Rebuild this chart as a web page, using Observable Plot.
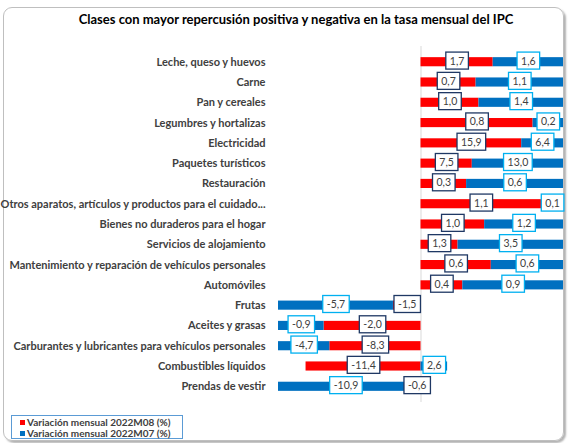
<!DOCTYPE html>
<html><head><meta charset="utf-8">
<script src="https://cdn.jsdelivr.net/npm/d3@7"></script>
<script src="https://cdn.jsdelivr.net/npm/@observablehq/plot@0.6"></script>
<style>
html,body{margin:0;padding:0;width:569px;height:443px;overflow:hidden;background:#fff;font-family:Lato,"Liberation Sans",sans-serif;}
#frame{position:absolute;left:3px;top:7px;width:559px;height:432px;border:1px solid #bfbfbf;border-radius:9px;box-shadow:2px 2px 2px rgba(0,0,0,0.3);}
#title{position:absolute;left:0;top:12px;width:592px;text-align:center;font-size:13px;line-height:15px;font-weight:bold;color:#000;}
#chart{position:absolute;left:0;top:0;}
#legend{position:absolute;left:11px;top:415px;width:172px;height:24px;border:1px solid #5b9bd5;box-sizing:border-box;padding:1px 0 0 8px;font-size:10px;font-weight:bold;color:#404040;line-height:10.5px;background:#fff;}
#legend .sw{display:inline-block;width:5px;height:5px;margin-right:2px;vertical-align:1px;}
</style></head>
<body>
<div id="frame"></div>
<div id="title">Clases con mayor repercusión positiva y negativa en la tasa mensual del IPC</div>
<div id="chart"></div>
<div id="legend"></div>
<script>
const categories = [
  "Leche, queso y huevos","Carne","Pan y cereales","Legumbres y hortalizas","Electricidad",
  "Paquetes turísticos","Restauración","Otros aparatos, artículos y productos para el cuidado...",
  "Bienes no duraderos para el hogar","Servicios de alojamiento",
  "Mantenimiento y reparación de vehículos personales","Automóviles","Frutas","Aceites y grasas",
  "Carburantes y lubricantes para vehículos personales","Combustibles líquidos","Prendas de vestir"
];
// bar lengths (repercussion)
const repM08 = [0.076,0.058,0.061,0.118,0.106,0.054,0.048,0.127,0.067,0.039,0.074,0.044,-0.029,-0.102,-0.096,-0.121,-0.008];
const repM07 = [0.09,0.11,0.10,0.05,0.07,0.12,0.13,0.03,0.09,0.14,0.09,0.12,-0.13,-0.06,-0.07,0.028,-0.16];
// data label values (monthly variation, %)
const varM08 = [1.7,0.7,1.0,0.8,15.9,7.5,0.3,1.1,1.0,1.3,0.6,0.4,-1.5,-2.0,-8.3,-11.4,-0.6];
const varM07 = [1.6,1.1,1.4,0.2,6.4,13.0,0.6,0.1,1.2,3.5,0.6,0.9,-5.7,-0.9,-4.7,2.6,-10.9];
const seriesNames = ["Variación mensual 2022M08 (%)","Variación mensual 2022M07 (%)"];
const colors = ["#ff0000","#0070c0"];
const xDomain = [-0.15, 0.15];

const clampX = v => Math.max(xDomain[0], Math.min(xDomain[1], v));
const rows = categories.flatMap((c, i) => {
  const r = repM08[i], b = repM07[i];
  const bStart = Math.sign(b) === Math.sign(r) ? r : 0;
  return [
    {cat: c, s: seriesNames[0], x1: 0, x2: r, lab: varM08[i]},
    {cat: c, s: seriesNames[1], x1: bStart, x2: bStart + b, lab: varM07[i]}
  ];
});
rows.forEach(d => d.mid = (clampX(d.x1) + clampX(d.x2)) / 2);
const fmt = v => v.toFixed(1).replace(".", ",");

const plot = Plot.plot({
  width: 569, height: 443,
  marginLeft: 278, marginRight: 6, marginTop: 46, marginBottom: 41,
  style: {fontFamily: "Lato, 'Liberation Sans', sans-serif", fontSize: "11px", fontWeight: "bold", color: "#404040", background: "transparent"},
  x: {domain: xDomain, axis: null, clamp: true},
  y: {domain: categories, padding: 0.55, round: false, label: null, tickSize: 0, tickPadding: 13},
  color: {domain: seriesNames, range: colors},
  marks: [
    Plot.ruleX([0], {stroke: "#d9d9d9"}),
    Plot.barX(rows, {x1: "x1", x2: "x2", y: "cat", fill: "s"}),
    Plot.text(rows.filter(d => d.s === seriesNames[0]), {x: "mid", y: "cat", text: d => fmt(d.lab), fill: "#404040", fontSize: 10.5, fontWeight: "normal", dy: -1}),
    Plot.text(rows.filter(d => d.s === seriesNames[1]), {x: "mid", y: "cat", text: d => fmt(d.lab), fill: "#404040", fontSize: 10.5, fontWeight: "normal", dy: -1})
  ]
});
document.getElementById("chart").appendChild(plot);

const textGroups = plot.querySelectorAll('g[aria-label="text"]');
function boxes(g, stroke) {
  if (!g) return;
  g.querySelectorAll("text").forEach(t => {
    const b = t.getBBox();
    const r = document.createElementNS("http://www.w3.org/2000/svg", "rect");
    const h = 17;
    r.setAttribute("x", b.x - 4);
    r.setAttribute("y", b.y + b.height / 2 - h / 2);
    r.setAttribute("width", b.width + 8);
    r.setAttribute("height", h);
    r.setAttribute("fill", "#fff");
    r.setAttribute("stroke", stroke);
    r.setAttribute("stroke-width", 1.3);
    const tr = t.getAttribute("transform");
    if (tr) r.setAttribute("transform", tr);
    t.parentNode.insertBefore(r, t);
  });
}
boxes(textGroups[0], "#1f3864");
boxes(textGroups[1], "#00b0f0");

document.getElementById("legend").innerHTML = seriesNames.map((n, i) =>
  `<div><span class="sw" style="background:${colors[i]}"></span>${n}</div>`).join("");
</script>
</body></html>
